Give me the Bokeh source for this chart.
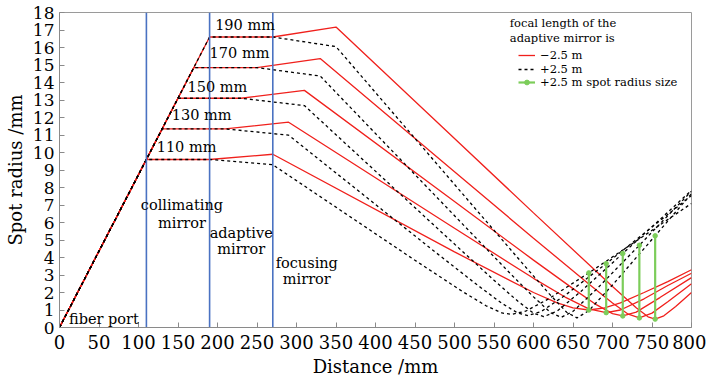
from bokeh.plotting import figure
from bokeh.models import Range1d, FixedTicker, Legend, LegendItem, Label
from bokeh.embed import file_html
from bokeh.resources import INLINE

# ---------------- data ----------------
x_ticks = list(range(0, 801, 50))
y_ticks = list(range(0, 19))

mirror_x = [110, 190, 270]

red_110_x = [0, 110, 190, 270, 500, 600, 630, 650, 670, 690, 710, 740, 770, 800]
red_110_y = [0, 9.6, 9.6, 9.9, 4.32, 2.0, 1.41, 1.12, 1.0, 1.12, 1.41, 2.0, 2.62, 3.3]
red_130_x = [0, 130, 210, 290, 500, 600, 640, 670, 692, 710, 740, 770, 800]
red_130_y = [0, 11.35, 11.35, 11.73, 5.67, 2.81, 1.74, 1.06, 0.85, 1.0, 1.64, 2.4, 3.1]
red_150_x = [0, 150, 230, 310, 500, 600, 650, 680, 700, 713, 730, 760, 800]
red_150_y = [0, 13.1, 13.1, 13.55, 7.2, 3.85, 2.22, 1.29, 0.79, 0.66, 0.88, 1.71, 2.85]
red_170_x = [0, 170, 250, 330, 500, 600, 670, 700, 720, 734, 750, 770, 800]
red_170_y = [0, 14.85, 14.85, 15.37, 8.9, 5.1, 2.49, 1.4, 0.76, 0.55, 0.82, 1.47, 2.5]
red_190_x = [0, 190, 270, 350, 500, 600, 700, 730, 745, 754, 765, 780, 800]
red_190_y = [0, 16.6, 16.6, 17.17, 10.8, 6.55, 2.34, 1.13, 0.61, 0.48, 0.67, 1.2, 2.0]

blk_110_x = [0, 110, 190, 270, 450, 510, 540, 560, 572, 590, 620, 670, 730, 800]
blk_110_y = [0, 9.6, 9.6, 9.3, 3.84, 2.06, 1.24, 0.83, 0.75, 0.93, 1.66, 3.12, 4.94, 7.09]
blk_130_x = [0, 130, 210, 290, 470, 530, 560, 580, 593, 610, 640, 692, 750, 800]
blk_130_y = [0, 11.35, 11.35, 10.99, 4.51, 2.39, 1.38, 0.83, 0.68, 0.92, 1.84, 3.65, 5.74, 7.54]
blk_150_x = [0, 150, 230, 310, 490, 550, 580, 600, 613, 630, 660, 713, 760, 800]
blk_150_y = [0, 13.1, 13.1, 12.68, 5.18, 2.7, 1.51, 0.82, 0.62, 0.94, 2.06, 4.23, 6.17, 7.84]
blk_170_x = [0, 170, 250, 330, 510, 570, 600, 622, 635, 650, 680, 734, 800]
blk_170_y = [0, 14.85, 14.85, 14.37, 5.92, 3.11, 1.75, 0.84, 0.58, 0.92, 2.2, 4.7, 7.79]
blk_190_x = [0, 190, 270, 350, 530, 590, 620, 642, 655, 670, 700, 754, 800]
blk_190_y = [0, 16.6, 16.6, 16.05, 6.6, 3.46, 1.92, 0.87, 0.55, 0.96, 2.43, 5.24, 7.65]

green_x = [670, 692, 713, 734, 754]
green_low = [1.0, 0.85, 0.66, 0.55, 0.48]
green_high = [3.12, 3.65, 4.23, 4.7, 5.24]

size_labels = ["110 mm", "130 mm", "150 mm", "170 mm", "190 mm"]
size_label_x = [123, 142, 162, 190, 197]
size_label_y = [10.29, 12.13, 13.74, 15.7, 17.27]

part_labels = ["collimating", "mirror", "adaptive", "mirror", "focusing", "mirror"]
part_label_x = [155, 155, 230, 230, 313, 313]
part_label_y = [6.98, 6.0, 5.39, 4.49, 3.67, 2.77]

legend_labels = ["\u22122.5 m", "+2.5 m", "+2.5 m spot radius size"]

FONT = "DejaVu Serif"
RED = "#f0201c"
BLUE = "#4a72c2"
GREEN = "#7ccd5a"

p = figure(width=706, height=380, x_range=Range1d(0, 800), y_range=Range1d(0, 18),
           output_backend="svg", toolbar_location=None,
           min_border_left=59, min_border_right=15, min_border_top=12, min_border_bottom=53)
p.xgrid.visible = False
p.ygrid.visible = False
p.outline_line_color = "#9a9a9a"
p.background_fill_color = "white"
p.border_fill_color = "white"

for ax in (p.xaxis[0], p.yaxis[0]):
    ax.axis_line_color = "#8a8a8a"
    ax.major_tick_line_color = "#8a8a8a"
    ax.major_tick_in = 5
    ax.major_tick_out = 0
    ax.minor_tick_line_color = None
    ax.major_label_text_font = FONT
    ax.major_label_text_color = "black"
    ax.axis_label_text_font = FONT
    ax.axis_label_text_font_size = "18px"
    ax.axis_label_text_font_style = "normal"
    ax.axis_label_text_color = "black"

p.xaxis.major_label_text_font_size = "18px"
p.yaxis.major_label_text_font_size = "17px"
p.xaxis.ticker = FixedTicker(ticks=x_ticks)
p.yaxis.ticker = FixedTicker(ticks=y_ticks)
p.xaxis.axis_label = "Distance /mm"
p.yaxis.axis_label = "Spot radius /mm"
p.xaxis.major_label_standoff = 7
p.yaxis.major_label_standoff = 5
p.xaxis.axis_label_standoff = 4
p.yaxis.axis_label_standoff = 4

red_sets = [(red_110_x, red_110_y), (red_130_x, red_130_y), (red_150_x, red_150_y),
            (red_170_x, red_170_y), (red_190_x, red_190_y)]
blk_sets = [(blk_110_x, blk_110_y), (blk_130_x, blk_130_y), (blk_150_x, blk_150_y),
            (blk_170_x, blk_170_y), (blk_190_x, blk_190_y)]

red_r = []
for xs, ys in red_sets:
    red_r.append(p.line(xs, ys, line_color=RED, line_width=1.3))
blk_r = []
for xs, ys in blk_sets:
    blk_r.append(p.line(xs, ys, line_color="black", line_width=1.3, line_dash="3 3"))

g_lines = p.multi_line([[gx, gx] for gx in green_x],
                       [[lo, hi] for lo, hi in zip(green_low, green_high)],
                       line_color=GREEN, line_width=2.2)
g_pts = p.scatter(green_x + green_x, green_low + green_high, size=4.5,
                  fill_color=GREEN, line_color=GREEN)

p.multi_line([[mx, mx] for mx in mirror_x], [[0, 18] for _ in mirror_x],
             line_color=BLUE, line_width=1.6)

for t, x, y in zip(size_labels, size_label_x, size_label_y):
    p.add_layout(Label(x=x, y=y, text=t, text_font=FONT, text_font_size="14.5px",
                       text_color="black", text_baseline="middle", text_align="left"))
for t, x, y in zip(part_labels, part_label_x, part_label_y):
    p.add_layout(Label(x=x, y=y, text=t, text_font=FONT, text_font_size="14.5px",
                       text_color="black", text_baseline="middle", text_align="center"))
p.add_layout(Label(x=12, y=0.5, text="fiber port", text_font=FONT, text_font_size="14.5px",
                   text_color="black", text_baseline="middle", text_align="left"))

p.add_layout(Label(x=570, y=17.39, text="focal length of the", text_font=FONT,
                   text_font_size="11.5px", text_color="black",
                   text_baseline="middle", text_align="left"))
p.add_layout(Label(x=570, y=16.52, text="adaptive mirror is", text_font=FONT,
                   text_font_size="11.5px", text_color="black",
                   text_baseline="middle", text_align="left"))

leg_renderers = [[red_r[0]], [blk_r[0]], [g_lines, g_pts]]
leg_bottoms = [265, 251, 238]
for lab, rs, yb in zip(legend_labels, leg_renderers, leg_bottoms):
    p.add_layout(Legend(items=[LegendItem(label=lab, renderers=rs)],
                        location=(459, yb), padding=0, margin=0, spacing=0,
                        glyph_width=17, glyph_height=12, label_height=12, label_standoff=5,
                        label_text_font=FONT, label_text_font_size="11.5px",
                        label_text_color="black",
                        border_line_alpha=0, background_fill_alpha=0))

open("out.html", "w").write(file_html(p, INLINE))
